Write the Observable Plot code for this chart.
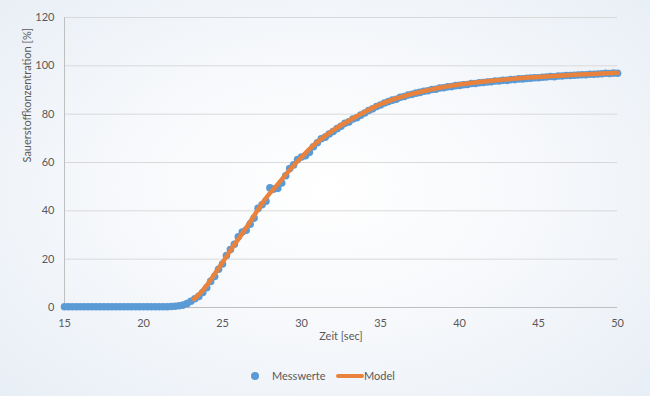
<!DOCTYPE html>
<html>
<head>
<meta charset="utf-8">
<script src="https://cdn.jsdelivr.net/npm/d3@7"></script>
<script src="https://cdn.jsdelivr.net/npm/@observablehq/plot@0.6"></script>
<style>
  html, body { margin: 0; padding: 0; }
  body {
    width: 650px; height: 396px; overflow: hidden;
    background: radial-gradient(ellipse 75% 80% at 50% 48%, #ffffff 0%, #f6f8fb 45%, #e6edf5 100%);
    font-family: Lato, "Open Sans", sans-serif;
    color: #595959;
  }
  #chart svg { display: block; }
  #legend { position: relative; height: 41px; width: 650px; font-size: 11px; }
  #legend .dot { position: absolute; left: 251px; top: 17px; width: 8px; height: 8px; border-radius: 50%; background: #5B9BD5; }
  #legend .lab { position: absolute; top: 14px; line-height: 14px; }
  #legend .ln { position: absolute; left: 336px; top: 19px; width: 28px; height: 4px; background: #E8823C; border-radius: 2px; }
</style>
</head>
<body>
<div id="chart"></div>
<div id="legend">
  <div class="dot"></div><div class="lab" style="left:272px">Messwerte</div>
  <div class="ln"></div><div class="lab" style="left:364px">Model</div>
</div>
<script>
// Messwerte: time [sec]
const measTime = [
  15,15.25,15.5,15.75, 16,16.25,16.5,16.75, 17,17.25,17.5,17.75, 18,18.25,18.5,18.75,
  19,19.25,19.5,19.75, 20,20.25,20.5,20.75, 21,21.25,21.5,21.75, 22,22.25,22.5,22.75,
  23,23.25,23.5,23.75, 24,24.25,24.5,24.75, 25,25.25,25.5,25.75, 26,26.25,26.5,26.75,
  27,27.25,27.5,27.75, 28,28.25,28.5,28.75, 29,29.25,29.5,29.75, 30,30.25,30.5,30.75,
  31,31.25,31.5,31.75, 32,32.25,32.5,32.75, 33,33.25,33.5,33.75, 34,34.25,34.5,34.75,
  35,35.25,35.5,35.75, 36,36.25,36.5,36.75, 37,37.25,37.5,37.75, 38,38.25,38.5,38.75,
  39,39.25,39.5,39.75, 40,40.25,40.5,40.75, 41,41.25,41.5,41.75, 42,42.25,42.5,42.75,
  43,43.25,43.5,43.75, 44,44.25,44.5,44.75, 45,45.25,45.5,45.75, 46,46.25,46.5,46.75,
  47,47.25,47.5,47.75, 48,48.25,48.5,48.75, 49,49.25,49.5,49.75, 50
];
// Messwerte: oxygen concentration [%]
const measValue = [
  0.3,0.3,0.3,0.3, 0.3,0.3,0.3,0.3, 0.3,0.3,0.3,0.3, 0.3,0.3,0.3,0.3,
  0.3,0.3,0.3,0.3, 0.3,0.3,0.3,0.3, 0.3,0.3,0.3,0.4, 0.5,0.7,1.0,1.6,
  2.6,3.6,4.6,6.2, 8.2,10.8,12.8,15.8, 18,21.5,24,26.2, 29.3,31.2,32,34.5,
  37,41,42.5,44, 49.5,49,49.3,51.5, 54.5,57.5,59,61.2, 62.3,62.8,64.2,66.5,
  68.2,69.8,70.5,71.8, 72.8,74,75,76.2, 76.8,78,78.5,79.6, 80.5,81.5,82.2,83.2,
  83.8,84.6,85.2,85.8, 86.2,87,87.3,87.9, 88.2,88.7,89,89.5, 89.7,90.2,90.3,90.8,
  90.9,91.3,91.4,91.8, 91.9,92.2,92.3,92.7, 92.7,93,93.1,93.3, 93.4,93.7,93.7,94,
  94,94.3,94.3,94.6, 94.6,94.8,94.9,95.1, 95.1,95.3,95.4,95.6, 95.5,95.8,95.8,96,
  96,96.1,96.2,96.3, 96.3,96.5,96.5,96.6, 96.7,96.9,96.8,97, 96.9
];
// Model curve
const modelTime = [23.2,23.5,24,24.5,25,25.5,26,26.5,27,27.5,28,28.5,29,29.5,30,30.5,31,31.5,32,32.5,33,33.5,34,34.5,35,35.5,36,36.5,37,37.5,38,38.5,39,39.5,40,41,42,43,44,45,46,47,48,49,50];
const modelValue = [3.5,5.3,9.2,13.8,18.6,23.6,28.3,33,38,43,47.3,51,55,58.8,62.2,65.5,68.5,71,73.3,75.4,77.3,79.1,80.9,82.6,84.1,85.4,86.5,87.5,88.4,89.2,89.9,90.6,91.2,91.8,92.3,93.1,93.8,94.4,95,95.4,95.8,96.2,96.5,96.8,97.1];

const xTicks = [15,20,25,30,35,40,45,50];
const yTicks = [0,20,40,60,80,100,120];
const xLabel = "Zeit [sec]";
const yLabel = "Sauerstoffkonzentration [%]";

const meas = measTime.map((t, i) => ({t, v: measValue[i]}));
const model = modelTime.map((t, i) => ({t, v: modelValue[i]}));

const chart = Plot.plot({
  width: 650,
  height: 355,
  marginTop: 17,
  marginBottom: 48,
  marginLeft: 64,
  marginRight: 33,
  style: {background: "transparent", fontFamily: "Lato, 'Open Sans', sans-serif", fontSize: "11px", color: "#595959"},
  x: {domain: [15, 50]},
  y: {domain: [0, 120]},
  marks: [
    Plot.gridY(yTicks.filter(d => d > 0), {stroke: "#d9d9d9", strokeOpacity: 1, strokeWidth: 1}),
    Plot.ruleX([15], {stroke: "#bfbfbf", strokeWidth: 1}),
    Plot.ruleY([0], {stroke: "#bfbfbf", strokeWidth: 1}),
    Plot.axisX({ticks: xTicks, tickSize: 0, tickPadding: 12, label: null, fill: "#595959"}),
    Plot.axisY({ticks: yTicks, tickSize: 0, tickPadding: 10, label: null, fill: "#595959"}),
    Plot.text([xLabel], {frameAnchor: "bottom", dy: 32, fill: "#595959", fontSize: 11}),
    Plot.text([yLabel], {frameAnchor: "left", rotate: -90, dx: -37, fill: "#595959", fontSize: 11}),
    Plot.dot(meas, {x: "t", y: "v", r: 3.8, fill: "#5B9BD5", stroke: null}),
    Plot.line(model, {x: "t", y: "v", stroke: "#E8823C", strokeWidth: 4.5, curve: "monotone-x"})
  ]
});
document.getElementById("chart").appendChild(chart);
</script>
</body>
</html>
